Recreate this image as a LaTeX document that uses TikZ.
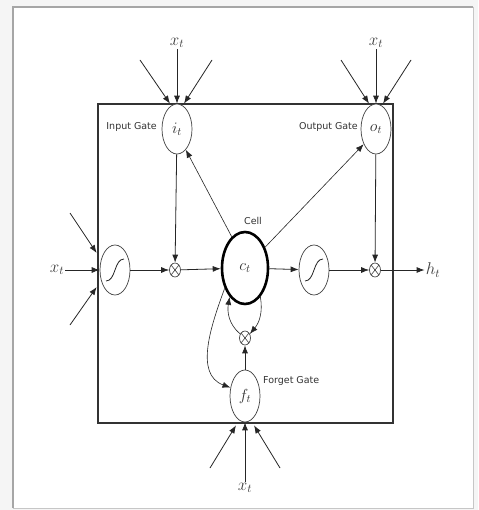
\RequirePackage{fix-cm}
\documentclass[tikz,border=0pt]{standalone}
\usepackage{fontspec}
\setsansfont{DejaVu Sans}
\usetikzlibrary{shapes.geometric,arrows.meta}
\begin{document}
\begin{tikzpicture}[x=1pt,y=-1pt,
 gate/.style={ellipse,draw=black!75,fill=white,line width=0.7pt,minimum width=30pt,minimum height=50pt,inner sep=0pt,font=\fontsize{16}{16}\selectfont,text=black!80},
 mult/.style={ellipse,draw=black!75,fill=white,line width=0.7pt,minimum width=11pt,minimum height=14pt,inner sep=0pt,
   path picture={\draw[black!75,line width=0.6pt] (path picture bounding box.north west) -- (path picture bounding box.south east) (path picture bounding box.north east) -- (path picture bounding box.south west);}},
 lab/.style={inner sep=1pt,font=\fontsize{17}{17}\selectfont,text=black!75},
 gtxt/.style={inner sep=0pt,font=\sffamily\fontsize{9.5}{9.5}\selectfont,text=black!80},
 arr/.style={-{Latex[length=8pt,width=6pt]},black!85,line width=0.8pt},
 sig/.style={black!85,line width=0.8pt},
]
\useasboundingbox (0,0) rectangle (478,510);
\fill[gray!8] (0,0) rectangle (478,510);
\fill[white] (13,7) rectangle (473,508);
\draw[gray!70,line width=1.6pt] (13,508) -- (13,7) -- (473,7);
\draw[gray!45,line width=1pt] (473,7) -- (473,508) -- (13,508);
% inner box
\draw[black!80,line width=1.3pt] (98,104) rectangle (393,423);
% nodes
\node[gate] (it) at (177,129) {$i_t$};
\node[gate] (ot) at (376,129) {$o_t$};
\node[gate] (sig1) at (115,270) {};
\node[gate] (sig2) at (314,270) {};
\node[gate,minimum width=46pt,minimum height=72pt,line width=2.6pt,draw=black] (cell) at (245,268) {$c_t$};
\node[mult] (m1) at (175,270) {};
\node[mult] (m2) at (375,270) {};
\node[mult] (m3) at (245,338) {};
\node[gate,minimum height=52pt] (ft) at (245,396) {$f_t$};
% labels
\node[lab] (xt1) at (177,43) {$x_t$};
\node[lab] (xt2) at (376,43) {$x_t$};
\node[lab] (xt3) at (57,270) {$x_t$};
\node[lab] (xt4) at (245,488) {$x_t$};
\node[lab] (ht) at (433,270) {$h_t$};
\node[gtxt,anchor=east] (lin) at (157,127) {Input Gate};
\node[gtxt,anchor=east] (lout) at (358,127) {Output Gate};
\node[gtxt] (lcell) at (253,221) {Cell};
\node[gtxt,anchor=west] (lf) at (263,381) {Forget Gate};
% sigmoid curves
\draw[sig] ([shift={(-9pt,-11pt)}]sig1.center) .. controls ([shift={(1pt,-11pt)}]sig1.center) and ([shift={(-1pt,11pt)}]sig1.center) .. ([shift={(9pt,11pt)}]sig1.center);
\draw[sig] ([shift={(-9pt,-11pt)}]sig2.center) .. controls ([shift={(1pt,-11pt)}]sig2.center) and ([shift={(-1pt,11pt)}]sig2.center) .. ([shift={(9pt,11pt)}]sig2.center);
% free ends
\coordinate (a1) at (140,60);
\coordinate (a2) at (212,60);
\coordinate (a3) at (341,60);
\coordinate (a4) at (411,60);
\coordinate (l1) at (70,213);
\coordinate (l2) at (70,325);
\coordinate (b1) at (210,468);
\coordinate (b2) at (280,468);
% input arrows
\draw[arr] (xt1) -- (it);
\draw[arr] (a1) -- ([xshift=-7pt]it.north);
\draw[arr] (a2) -- ([xshift=7pt]it.north);
\draw[arr] (xt2) -- (ot);
\draw[arr] (a3) -- ([xshift=-7pt]ot.north);
\draw[arr] (a4) -- ([xshift=7pt]ot.north);
\draw[arr] (xt3) -- (sig1);
\draw[arr] (l1) -- ([shift={(-3pt,17pt)}]sig1.west);
\draw[arr] (l2) -- ([shift={(-3pt,-17pt)}]sig1.west);
\draw[arr] (xt4) -- (ft);
\draw[arr] (b1) -- ([shift={(-9pt,-3pt)}]ft.south);
\draw[arr] (b2) -- ([shift={(9pt,-3pt)}]ft.south);
% main flow
\draw[arr] (sig1) -- (m1);
\draw[arr] (m1) -- (cell);
\draw[arr] (cell) -- (sig2);
\draw[arr] (sig2) -- (m2);
\draw[arr] (m2) -- (ht);
\draw[arr] (it) -- (m1);
\draw[arr] (ot) -- (m2);
\draw[arr,line width=0.6pt] (cell.113) -- (it.293);
\draw[arr,line width=0.6pt] (cell.46) -- (ot.231);
% forget loop
\draw[arr,line width=0.6pt] (cell.298) to[out=-80,in=50] (m3.40);
\draw[arr,line width=0.6pt] (m3.140) to[out=140,in=-100] (cell.242);
\draw[arr,line width=0.6pt] (cell.225) to[out=250,in=160] (ft.150);
\draw[arr] (ft) -- (m3);
\end{tikzpicture}
\end{document}
